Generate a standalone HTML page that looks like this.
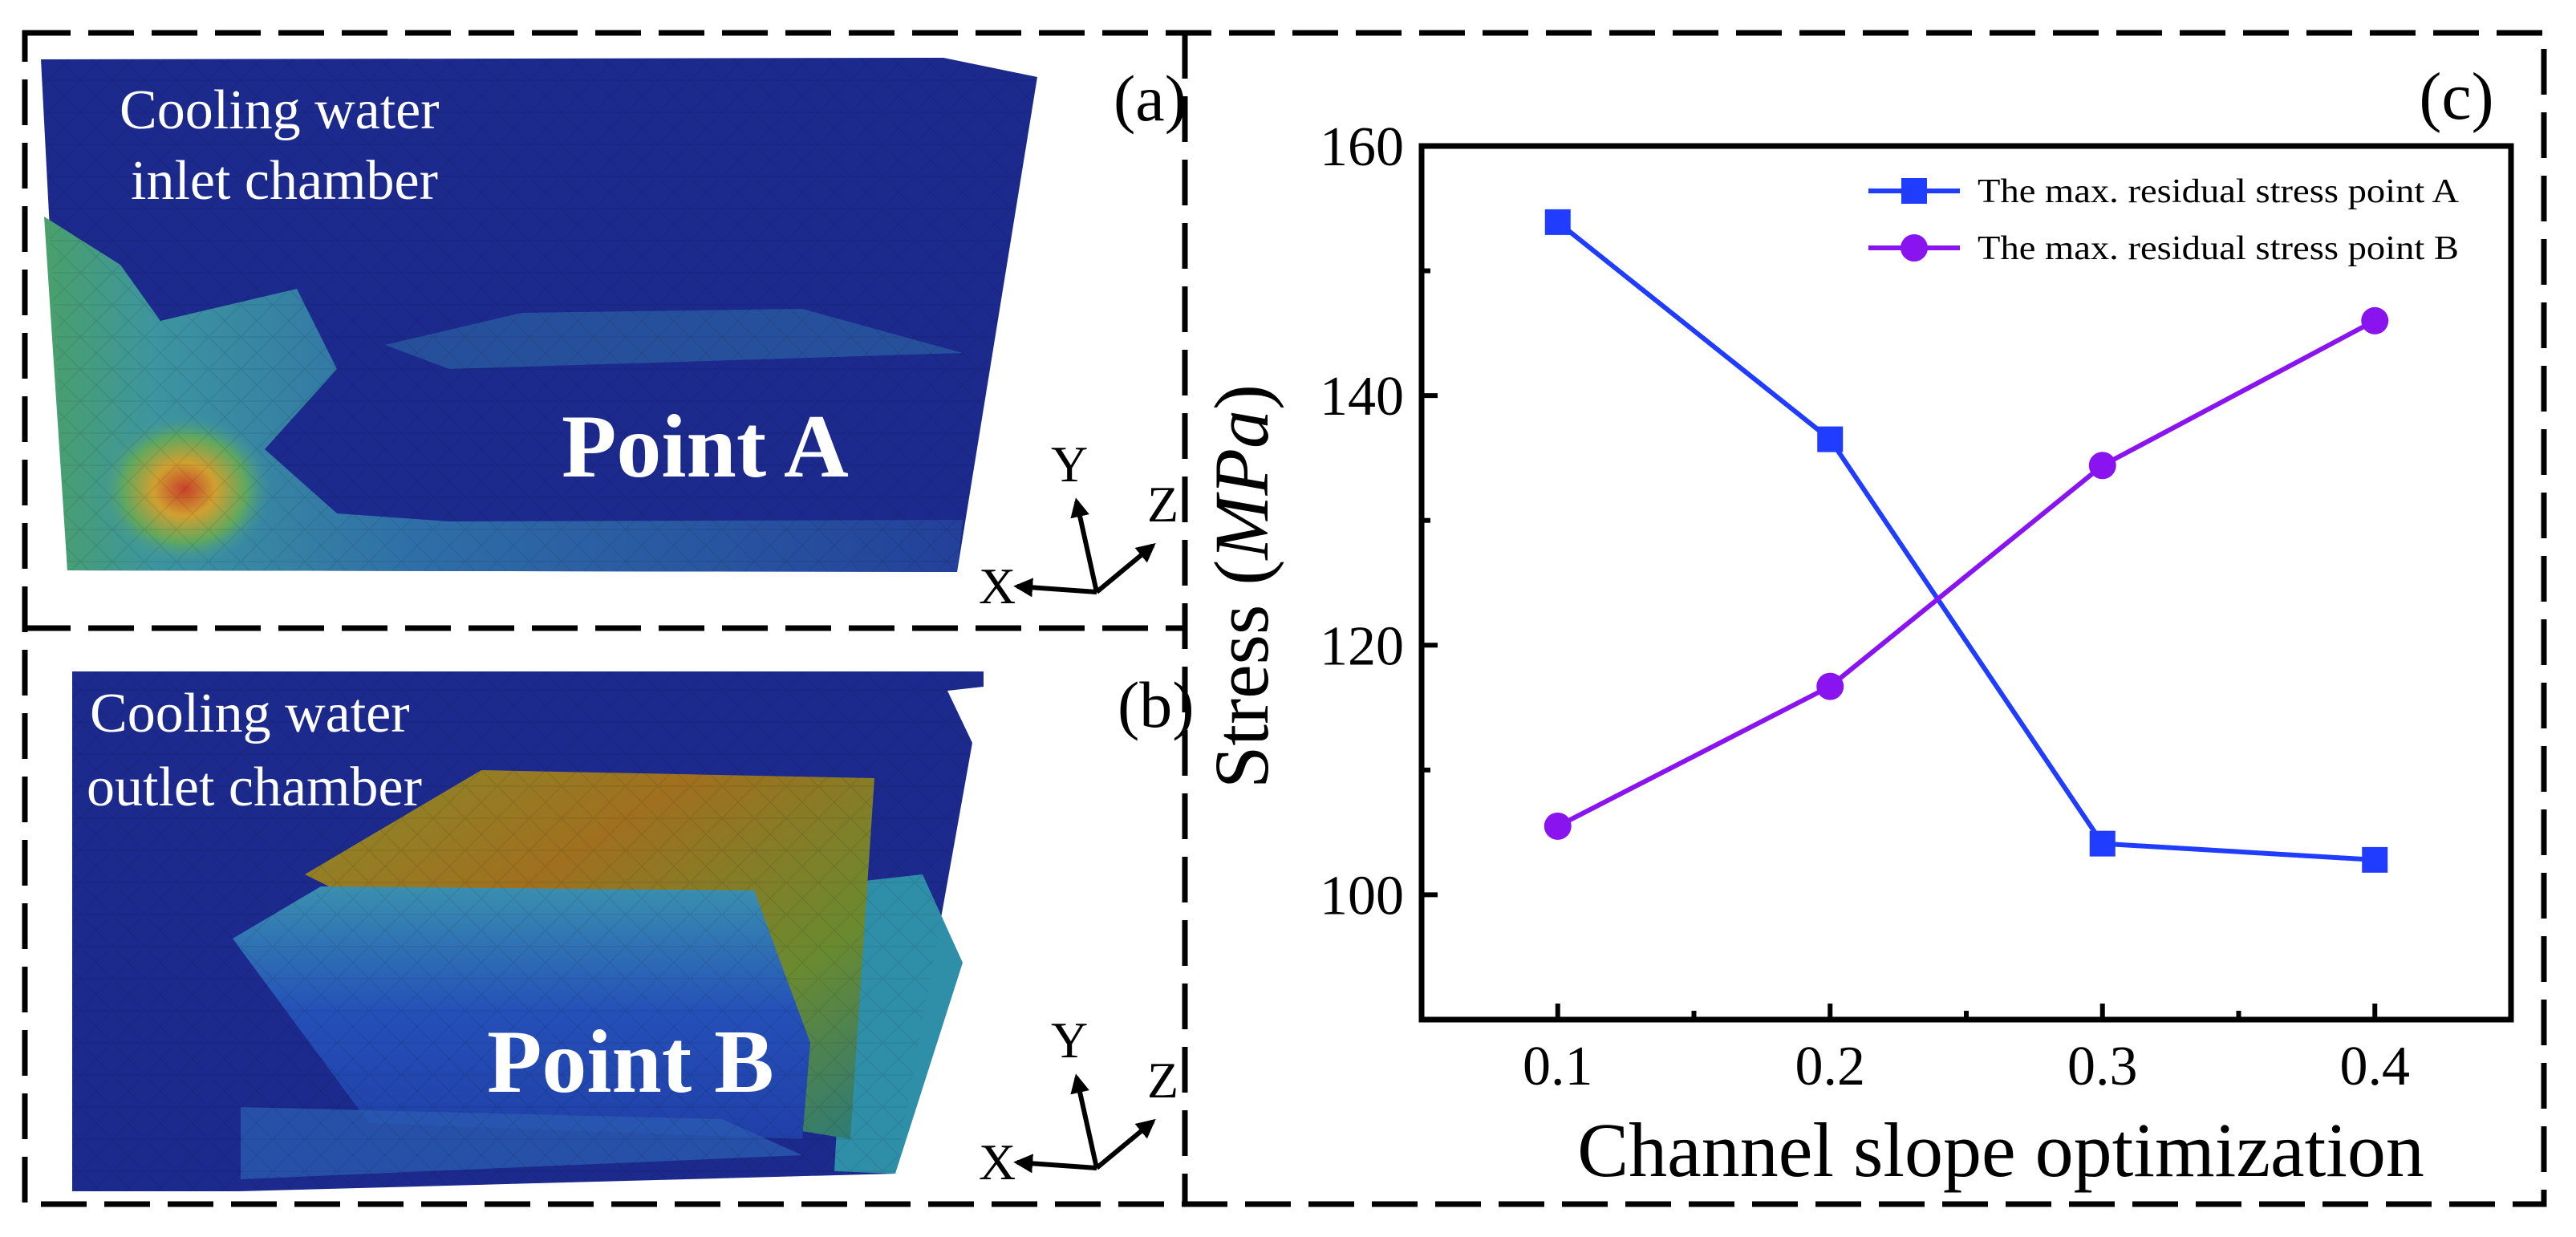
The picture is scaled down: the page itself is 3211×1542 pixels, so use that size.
<!DOCTYPE html>
<html><head><meta charset="utf-8"><style>
html,body{margin:0;padding:0;background:#fff;}
svg{display:block;font-family:"Liberation Serif",serif;}
</style></head><body>
<svg id="fig" width="3211" height="1542" viewBox="0 0 3211 1542" xmlns="http://www.w3.org/2000/svg">
<defs>
<marker id="ah" viewBox="0 0 10 10" refX="8" refY="5" markerWidth="4" markerHeight="4" orient="auto"><path d="M0,0L10,5L0,10z" fill="#000"/></marker>
<linearGradient id="hotA" x1="0" y1="0" x2="1" y2="0"><stop offset="0" stop-color="#4aa06a"/><stop offset="0.12" stop-color="#3d95a0"/><stop offset="0.4" stop-color="#2f6fa8"/><stop offset="1" stop-color="#23409a"/></linearGradient>
<radialGradient id="spotA" cx="0.5" cy="0.5" r="0.5"><stop offset="0" stop-color="#c8402a"/><stop offset="0.35" stop-color="#d0a030"/><stop offset="0.7" stop-color="#5fa860"/><stop offset="1" stop-color="#3d95a0" stop-opacity="0"/></radialGradient>
<linearGradient id="dome" x1="0" y1="0" x2="1" y2="1"><stop offset="0" stop-color="#8a8a2a"/><stop offset="0.35" stop-color="#a0701f"/><stop offset="0.7" stop-color="#6a8a30"/><stop offset="1" stop-color="#2a7a7a"/></linearGradient>
<linearGradient id="plate" x1="0" y1="0" x2="0" y2="1"><stop offset="0" stop-color="#3a90b0"/><stop offset="0.5" stop-color="#2450b8"/><stop offset="1" stop-color="#2040a8"/></linearGradient>
<pattern id="mesh" width="40" height="40" patternUnits="userSpaceOnUse"><path d="M0,0L40,40M0,40L40,0M0,20H40" stroke="#000" stroke-opacity="0.25" stroke-width="1.2"/></pattern>
</defs>

<g stroke="#000" stroke-width="7" stroke-dasharray="57 22" fill="none">
<rect x="31" y="41" width="3140" height="1460"/>
<line x1="1477" y1="41" x2="1477" y2="1501"/>
<line x1="31" y1="783" x2="1477" y2="783"/>
</g>

<g>
<polygon points="51,74 1176,72 1293,96 1193,713 84,711" fill="#1c2a8e"/>
<polygon points="55,270 150,330 200,400 370,360 420,460 330,560 420,640 560,650 1200,648 1193,713 84,711" fill="url(#hotA)"/>
<polygon points="480,430 650,390 1000,385 1200,440 560,460" fill="#2a5aa0" opacity="0.8"/>
<ellipse cx="230" cy="610" rx="110" ry="95" fill="url(#spotA)"/>
<polygon points="51,74 1176,72 1293,96 1193,713 84,711" fill="url(#mesh)" opacity="0.4"/>
<text x="149" y="160" font-size="70" fill="#fff">Cooling water</text>
<text x="163" y="248" font-size="70" fill="#fff">inlet chamber</text>
<text x="700" y="594" font-size="112" font-weight="bold" fill="#fff">Point A</text>
<text x="1388" y="150" font-size="82" fill="#000">(a)</text>
</g>
<g stroke="#000" stroke-width="6" fill="none">
<line x1="1367" y1="738" x2="1342" y2="625" marker-end="url(#ah)"/>
<line x1="1367" y1="738" x2="1437" y2="680" marker-end="url(#ah)"/>
<line x1="1367" y1="738" x2="1268" y2="731" marker-end="url(#ah)"/>
</g>
<g font-size="64" fill="#000"><text x="1310" y="600">Y</text><text x="1430" y="650">Z</text><text x="1220" y="752">X</text></g>

<g>
<polygon points="90,837 1226,837 1226,856 1181,861 1212,926 1116,1463 298,1485 90,1485" fill="#1c2a8e"/>
<polygon points="1060,1100 1150,1090 1200,1200 1116,1463 1040,1460" fill="#2f8fa8"/>
<polygon points="380,1090 600,960 1090,970 1060,1420 1000,1410 940,1120 420,1110" fill="url(#dome)"/>
<polygon points="290,1170 400,1105 940,1110 1010,1300 1000,1420 460,1400" fill="url(#plate)"/>
<polygon points="300,1380 900,1395 1000,1440 300,1470" fill="#2a5ab0" opacity="0.8"/>
<polygon points="90,837 1226,837 1226,856 1181,861 1212,926 1116,1463 298,1485 90,1485" fill="url(#mesh)" opacity="0.4"/>
<text x="112" y="912" font-size="70" fill="#fff">Cooling water</text>
<text x="108" y="1004" font-size="70" fill="#fff">outlet chamber</text>
<text x="607" y="1361" font-size="112" font-weight="bold" fill="#fff">Point B</text>
<text x="1393" y="906" font-size="82" fill="#000">(b)</text>
</g>
<g stroke="#000" stroke-width="6" fill="none">
<line x1="1367" y1="1456" x2="1342" y2="1343" marker-end="url(#ah)"/>
<line x1="1367" y1="1456" x2="1437" y2="1398" marker-end="url(#ah)"/>
<line x1="1367" y1="1456" x2="1268" y2="1449" marker-end="url(#ah)"/>
</g>
<g font-size="64" fill="#000"><text x="1310" y="1318">Y</text><text x="1430" y="1368">Z</text><text x="1220" y="1470">X</text></g>

<text x="3062" y="148" font-size="84" text-anchor="middle" fill="#000">(c)</text>
<g id="chart"></g>
</svg>
<script>
const categories = [0.1, 0.2, 0.3, 0.4];
const seriesA = [153.9, 136.5, 104.1, 102.8];
const seriesB = [105.5, 116.7, 134.4, 146.0];
const yTicks = [100, 120, 140, 160];
const yMinorTicks = [110, 130, 150];
const xTicks = [0.1, 0.2, 0.3, 0.4];
const xMinorTicks = [0.15, 0.25, 0.35];
const legendLabels = ["The max. residual stress point A", "The max. residual stress point B"];

const NS = "http://www.w3.org/2000/svg";
const L = 1772, R = 3130, T = 182, B = 1271;
const xMin = 0.05, xMax = 0.45, yMin = 90, yMax = 160;
function xs(v){ return L + (v - xMin) / (xMax - xMin) * (R - L); }
function ys(v){ return B - (v - yMin) / (yMax - yMin) * (B - T); }
const g = document.getElementById('chart');
function mk(tag, attrs, parent){ const e = document.createElementNS(NS, tag); for (const k in attrs) e.setAttribute(k, attrs[k]); (parent || g).appendChild(e); return e; }

const frame = mk('rect', {x:L, y:T, width:R-L, height:B-T, fill:'none', stroke:'#000', 'stroke-width':7});



yTicks.forEach(v => {
  const t = mk('line', {x1:L, x2:L+20, y1:ys(v), y2:ys(v), stroke:'#000', 'stroke-width':6});
  
  
  const lb = mk('text', {x:L-22, y:ys(v)+24, 'font-size':70, 'text-anchor':'end', fill:'#000'});
  lb.textContent = v;
  
  
});
yMinorTicks.forEach(v => {
  const t = mk('line', {x1:L, x2:L+11, y1:ys(v), y2:ys(v), stroke:'#000', 'stroke-width':6});
  
  
});
xTicks.forEach(v => {
  const t = mk('line', {x1:xs(v), x2:xs(v), y1:B, y2:B-20, stroke:'#000', 'stroke-width':6});
  
  
  const lb = mk('text', {x:xs(v), y:1352, 'font-size':70, 'text-anchor':'middle', fill:'#000'});
  lb.textContent = v.toFixed(1);
  
  
});
xMinorTicks.forEach(v => {
  const t = mk('line', {x1:xs(v), x2:xs(v), y1:B, y2:B-11, stroke:'#000', 'stroke-width':6});
  
  
});

const xt = mk('text', {x:2494, y:1466, 'font-size':96, 'text-anchor':'middle', fill:'#000'});
xt.textContent = 'Channel slope optimization';


const yt = mk('text', {x:0, y:0, 'font-size':96, 'text-anchor':'middle', fill:'#000', transform:'translate(1580,731) rotate(-90)'});
yt.innerHTML = 'Stress (<tspan font-style="italic">MPa</tspan>)';



function series(vals, color, shape, name){
  const pts = categories.map((c,i) => xs(c) + ',' + ys(vals[i])).join(' ');
  const pl = mk('polyline', {points:pts, fill:'none', stroke:color, 'stroke-width':6});
  
  
  categories.forEach((c,i) => {
    let m;
    if (shape === 'square') m = mk('rect', {x:xs(c)-16, y:ys(vals[i])-16, width:32, height:32, fill:color});
    else m = mk('circle', {cx:xs(c), cy:ys(vals[i]), r:17, fill:color});
    
    
  });
}
series(seriesA, '#1f3cff', 'square', 'series-a');
series(seriesB, '#8a14f0', 'circle', 'series-b');

const legColors = ['#1f3cff', '#8a14f0'];
legendLabels.forEach((lab, i) => {
  const y = 238 + i * 71;
  const ln = mk('line', {x1:2329, x2:2443, y1:y, y2:y, stroke:legColors[i], 'stroke-width':6});
  
  
  let m;
  if (i === 0) m = mk('rect', {x:2370, y:y-16, width:32, height:32, fill:legColors[i]});
  else m = mk('circle', {cx:2386, cy:y, r:17, fill:legColors[i]});
  
  
  const tx = mk('text', {x:2465, y:y+14, 'font-size':42, fill:'#000', textLength:600, lengthAdjust:'spacingAndGlyphs'});
  tx.textContent = lab;
  
  
});
</script>
</body></html>
